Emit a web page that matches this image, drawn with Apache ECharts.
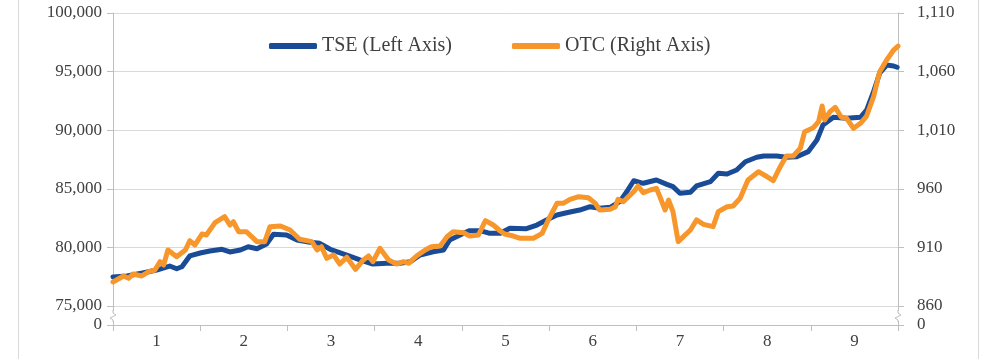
<!DOCTYPE html>
<html>
<head>
<meta charset="utf-8">
<script src="https://cdn.jsdelivr.net/npm/echarts@6/dist/echarts.min.js"></script>
<style>
html,body{margin:0;padding:0;background:#fff;}
#chart{width:1000px;height:359px;}
</style>
</head>
<body>
<div id="chart"></div>
<script>
// Month labels on the x axis
const months = ['1','2','3','4','5','6','7','8','9'];
// Left axis tick range (TSE)
const leftTicks = [75000, 80000, 85000, 90000, 95000, 100000];
// Right axis tick range (OTC)
const rightTicks = [860, 910, 960, 1010, 1060, 1110];

// TSE index: position in months (0..9) and value
const tseMonth = [0.00,0.16,0.34,0.50,0.65,0.73,0.79,0.88,1.00,1.11,1.25,1.34,1.46,1.55,1.65,1.76,1.84,1.99,2.11,2.26,
  2.37,2.49,2.68,2.83,2.98,3.14,3.29,3.41,3.52,3.67,3.79,3.86,4.02,4.09,4.21,4.32,4.44,4.55,4.74,4.86,4.97,
  5.09,5.20,5.35,5.47,5.58,5.70,5.81,5.89,5.97,6.08,6.23,6.35,6.42,6.50,6.62,6.69,6.85,6.94,7.04,7.15,7.25,
  7.38,7.46,7.61,7.72,7.84,7.97,8.07,8.14,8.26,8.41,8.57,8.64,8.72,8.79,8.87,8.95,8.99];
const tseValue = [77480,77560,77820,78070,78410,78180,78350,79270,79520,79690,79840,79610,79780,80060,79890,80290,81120,81060,80630,80430,
  80350,79840,79350,78930,78580,78640,78640,78780,79350,79630,79780,80630,81200,81430,81430,81200,81200,81630,81600,81910,82340,
  82760,82960,83190,83470,83340,83420,83900,84750,85690,85470,85750,85380,85180,84620,84700,85240,85610,86320,86260,86600,87310,
  87690,87800,87800,87690,87740,88170,89160,90440,91100,91020,91100,91720,93290,94860,95560,95480,95370];

// OTC index: position in months (0..9) and value
const otcMonth = [0.00,0.04,0.12,0.18,0.23,0.33,0.41,0.48,0.54,0.58,0.63,0.73,0.83,0.88,0.94,1.02,1.07,1.17,1.28,1.34,1.38,1.44,1.53,1.65,1.74,1.80,1.92,2.03,2.14,
  2.28,2.34,2.39,2.45,2.53,2.60,2.68,2.78,2.87,2.93,2.98,3.06,3.16,3.25,3.33,3.39,3.48,3.58,3.65,3.75,3.83,3.90,4.02,4.09,4.19,4.27,4.36,4.44,
  4.49,4.59,4.67,4.82,4.92,4.99,5.09,5.16,5.24,5.34,5.45,5.53,5.58,5.70,5.76,5.79,5.85,5.91,5.97,6.02,6.08,6.16,6.23,6.27,6.33,6.37,6.42,6.48,
  6.62,6.69,6.77,6.88,6.94,7.04,7.11,7.19,7.28,7.40,7.50,7.57,7.65,7.72,7.80,7.88,7.93,8.03,8.09,8.13,8.16,8.22,8.28,8.35,8.41,8.49,8.57,8.64,8.72,8.79,8.87,8.95,9.00];
const otcValue = [880.5,882.2,885.6,883.6,887.3,885.6,889.3,890.7,897.8,895.0,907.8,902.1,907.8,915.7,912.1,921.4,920.6,931.1,936.2,929.1,931.9,923.4,923.4,914.9,914.9,927.7,928.3,924.9,916.9,
  914.9,907.8,910.6,900.7,903.5,895.8,901.6,891.3,899.3,902.7,897.8,909.2,899.3,895.8,897.8,896.4,902.7,907.8,910.6,911.2,919.1,923.4,922.5,919.7,920.6,932.8,929.1,924.0,
  921.4,919.7,917.8,917.8,922.0,933.4,947.6,947.6,951.0,953.3,952.4,947.6,941.9,942.5,944.7,951.0,949.0,953.3,957.5,962.4,956.7,959.0,960.4,953.3,941.9,950.4,940.5,914.9,
  924.9,933.4,929.7,927.7,940.5,944.7,945.3,951.9,967.5,974.6,970.3,966.9,978.9,988.0,988.0,994.6,1008.7,1012.1,1017.3,1030.6,1018.7,1025.8,1029.5,1021.0,1020.2,1011.6,1015.9,1022.1,1038.6,1059.9,1069.9,1078.4,1081.8];

const tseData = tseMonth.map((m, i) => [m, tseValue[i]]);
const otcData = otcMonth.map((m, i) => [m, otcValue[i]]);

const FONT = 'Liberation Serif';
const LABEL = '#404040';
const AXIS = '#bfbfbf';
const GRIDC = '#d9d9d9';
const fmt = v => Math.round(v).toString().replace(/\B(?=(\d{3})+(?!\d))/g, ',');

const chart = echarts.init(document.getElementById('chart'), null, {renderer: 'canvas'});

const L = 113, R = 898, TOP = 13, MID = 306, BOT = 325;

function breakMark(x, y) {
  return [
    {type: 'rect', shape: {x: x - 4, y: y - 5, width: 8, height: 10}, style: {fill: '#fff'}, z: 100},
    {type: 'polyline', shape: {points: [[x, y - 6], [x, y - 3], [x + 3, y - 1], [x - 3, y + 2], [x, y + 4], [x, y + 6]]},
      style: {stroke: AXIS, lineWidth: 1, fill: null}, z: 101}
  ];
}

chart.setOption({
  animation: false,
  backgroundColor: '#fff',
  textStyle: {fontFamily: FONT},
  legend: {
    left: 264, top: 31,
    itemWidth: 48, itemHeight: 6, itemGap: 60,
    icon: 'roundRect',
    textStyle: {fontFamily: FONT, fontSize: 20, color: LABEL},
    data: ['TSE (Left Axis)', 'OTC (Right Axis)']
  },
  grid: [
    {left: L, right: 1000 - R, top: TOP, height: MID - TOP},
    {left: L, right: 1000 - R, top: MID, height: BOT - MID}
  ],
  xAxis: [
    {type: 'value', gridIndex: 0, min: 0, max: 9, show: false},
    {type: 'category', gridIndex: 1, data: months, boundaryGap: true,
      axisLine: {show: true, lineStyle: {color: AXIS, width: 1}},
      axisTick: {show: true, length: 6, lineStyle: {color: AXIS}},
      axisLabel: {fontFamily: FONT, fontSize: 17, color: LABEL, margin: 8},
      splitLine: {show: false}}
  ],
  yAxis: [
    {type: 'value', gridIndex: 0, position: 'left', min: leftTicks[0], max: leftTicks[leftTicks.length - 1], interval: leftTicks[1] - leftTicks[0],
      axisLine: {show: true, lineStyle: {color: AXIS}},
      axisTick: {show: true, length: 6, lineStyle: {color: AXIS}},
      axisLabel: {fontFamily: FONT, fontSize: 17, color: LABEL, margin: 11, formatter: fmt},
      splitLine: {show: true, lineStyle: {color: GRIDC, width: 1}}},
    {type: 'value', gridIndex: 0, position: 'right', min: rightTicks[0], max: rightTicks[rightTicks.length - 1], interval: rightTicks[1] - rightTicks[0],
      axisLine: {show: true, lineStyle: {color: AXIS}},
      axisTick: {show: true, length: 6, lineStyle: {color: AXIS}},
      axisLabel: {fontFamily: FONT, fontSize: 17, color: LABEL, margin: 19, formatter: fmt},
      splitLine: {show: false}},
    {type: 'value', gridIndex: 1, position: 'left', min: 0, max: 1, interval: 1,
      axisLine: {show: true, lineStyle: {color: AXIS}},
      axisTick: {show: true, length: 6, lineStyle: {color: AXIS}},
      axisLabel: {fontFamily: FONT, fontSize: 17, color: LABEL, margin: 11, formatter: v => v === 0 ? '0' : ''},
      splitLine: {show: false}},
    {type: 'value', gridIndex: 1, position: 'right', min: 0, max: 1, interval: 1,
      axisLine: {show: true, lineStyle: {color: AXIS}},
      axisTick: {show: true, length: 6, lineStyle: {color: AXIS}},
      axisLabel: {fontFamily: FONT, fontSize: 17, color: LABEL, margin: 19, formatter: v => v === 0 ? '0' : ''},
      splitLine: {show: false}}
  ],
  series: [
    {name: 'TSE (Left Axis)', type: 'line', xAxisIndex: 0, yAxisIndex: 0, data: tseData,
      showSymbol: false, symbol: 'none', color: '#1a4b97',
      lineStyle: {width: 5, color: '#1a4b97', cap: 'round', join: 'round'}, z: 3},
    {name: 'OTC (Right Axis)', type: 'line', xAxisIndex: 0, yAxisIndex: 1, data: otcData,
      showSymbol: false, symbol: 'none', color: '#f7962b',
      lineStyle: {width: 5, color: '#f7962b', cap: 'round', join: 'round'}, z: 4}
  ],
  graphic: [
    {type: 'line', shape: {x1: 18.5, y1: 0, x2: 18.5, y2: 359}, style: {stroke: GRIDC, lineWidth: 1}},
    {type: 'line', shape: {x1: 978.5, y1: 0, x2: 978.5, y2: 359}, style: {stroke: GRIDC, lineWidth: 1}},
    ...breakMark(L, 316),
    ...breakMark(R, 316)
  ]
});
</script>
</body>
</html>
